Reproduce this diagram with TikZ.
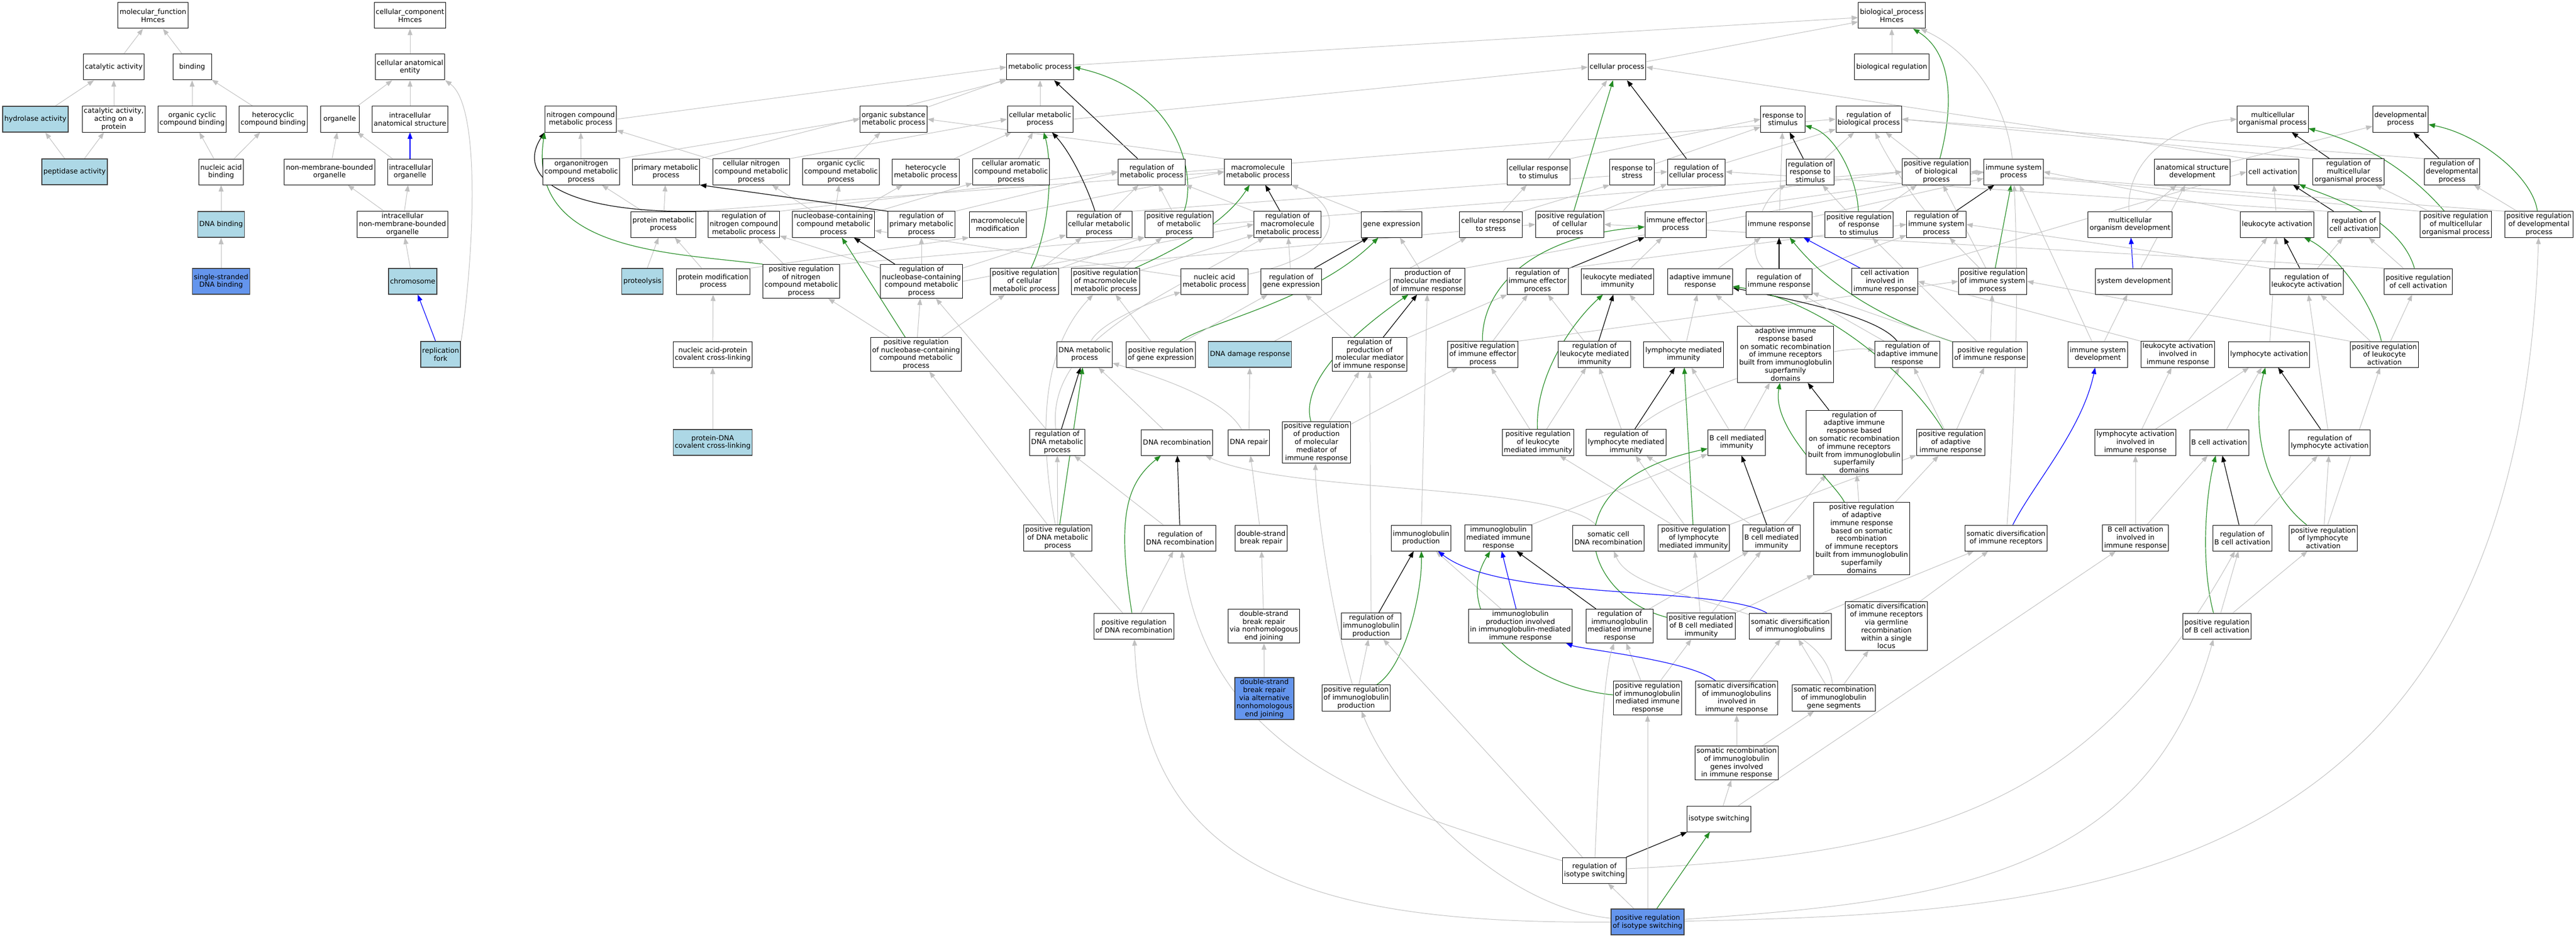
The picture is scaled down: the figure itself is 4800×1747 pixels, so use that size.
\documentclass[tikz,border=0pt]{standalone}
\usepackage{fontspec}
\setmainfont{DejaVu Sans}
\usetikzlibrary{arrows.meta}
\definecolor{hitblue}{HTML}{ADD8E6}
\definecolor{coreblue}{HTML}{6495ED}
\definecolor{isagray}{RGB}{192,192,192}
\definecolor{posgreen}{HTML}{228B22}
\pgfdeclarelayer{background}
\pgfsetlayers{background,main}
\begin{document}
\begin{tikzpicture}[
					x=1pt, y=-1pt,
					go/.style={rectangle,draw,fill=white,line width=1pt,align=center,inner xsep=3pt,inner ysep=3pt,minimum width=72pt,minimum height=48pt,font=\fontsize{13}{14.8}\selectfont},
					hit/.style={go,fill=hitblue,draw=black!75,line width=1.6pt},
					core/.style={go,fill=coreblue,draw=black!75,line width=1.6pt},
					isa/.style={draw=isagray,line width=1pt,-{Stealth[inset=0pt,length=12pt,width=9pt]}},
					regs/.style={draw=black,line width=1.2pt,-{Stealth[inset=0pt,length=12pt,width=9pt]}},
					posreg/.style={draw=posgreen,line width=1.2pt,-{Stealth[inset=0pt,length=12pt,width=9pt]}},
					partof/.style={draw=blue,line width=1.2pt,-{Stealth[inset=0pt,length=12pt,width=9pt]}},
					]
					\useasboundingbox (0,0) rectangle (4800,1747);
					% molecular function and cellular component
					\node [go] (mf) at (285,29) {molecular\_function\\Hmces};
					\node [go] (cc) at (764,29) {cellular\_component\\Hmces};
					\node [go] (bp) at (3525,29) {biological\_process\\Hmces};
					\node [go] (catact) at (212,125) {catalytic activity};
					\node [go] (bind) at (358,125) {binding};
					\node [go] (cae) at (764,125) {cellular anatomical\\entity};
					\node [go] (metab) at (1938,125) {metabolic process};
					\node [go] (cellp) at (3013,125) {cellular process};
					\node [go] (bioreg) at (3525,125) {biological regulation};
					\node [hit] (hydro) at (66,222) {hydrolase activity};
					\node [go] (catprot) at (212,222) {catalytic activity,\\acting on a\\protein};
					\node [go] (orgcyc) at (358,222) {organic cyclic\\compound binding};
					\node [go] (hetcyc) at (509,222) {heterocyclic\\compound binding};
					\node [go] (organelle) at (633,222) {organelle};
					\node [go] (ias) at (764,222) {intracellular\\anatomical structure};
					\node [go] (nitro) at (1082,222) {nitrogen compound\\metabolic process};
					\node [go] (orgsub) at (1665,222) {organic substance\\metabolic process};
					\node [go] (cellmet) at (1938,222) {cellular metabolic\\process};
					\node [go] (respstim) at (3322,222) {response to\\stimulus};
					\node [go] (regbio) at (3482,222) {regulation of\\biological process};
					\node [go] (multi) at (4235,222) {multicellular\\organismal process};
					\node [go] (devel) at (4473,222) {developmental\\process};
					% rank 3
					\node [hit] (pept) at (139,320) {peptidase activity};
					\node [go] (nabind) at (412,320) {nucleic acid\\binding};
					\node [go] (nmbo) at (614,320) {non-membrane-bounded\\organelle};
					\node [go] (icorg) at (764,320) {intracellular\\organelle};
					\node [go] (orgnit) at (1083,320) {organonitrogen\\compound metabolic\\process};
					\node [go] (primet) at (1241,320) {primary metabolic\\process};
					\node [go] (cnitro) at (1400,320) {cellular nitrogen\\compound metabolic\\process};
					\node [go] (ocycmet) at (1567,320) {organic cyclic\\compound metabolic\\process};
					\node [go] (hetmet) at (1725,320) {heterocycle\\metabolic process};
					\node [go] (aromet) at (1884,320) {cellular aromatic\\compound metabolic\\process};
					\node [go] (regmet) at (2146,320) {regulation of\\metabolic process};
					\node [go] (macmet) at (2344,320) {macromolecule\\metabolic process};
					\node [go] (crstim) at (2867,320) {cellular response\\to stimulus};
					\node [go] (rstress) at (3041,320) {response to\\stress};
					\node [go] (regcell) at (3161,320) {regulation of\\cellular process};
					\node [go] (regrstim) at (3373,320) {regulation of\\response to\\stimulus};
					\node [go] (posbio) at (3608,320) {positive regulation\\of biological\\process};
					\node [go] (imsys) at (3752,320) {immune system\\process};
					\node [go] (asdev) at (4085,320) {anatomical structure\\development};
					\node [go] (cellact) at (4235,320) {cell activation};
					\node [go] (regmulti) at (4376,320) {regulation of\\multicellular\\organismal process};
					\node [go] (regdev) at (4569,320) {regulation of\\developmental\\process};
					% rank 4
					\node [hit] (dnabind) at (412,418) {DNA binding};
					\node [go] (incorg) at (750,418) {intracellular\\non-membrane-bounded\\organelle};
					\node [go] (protmet) at (1236,418) {protein metabolic\\process};
					\node [go] (regnitro) at (1386,418) {regulation of\\nitrogen compound\\metabolic process};
					\node [go] (nucmet) at (1553,418) {nucleobase-containing\\compound metabolic\\process};
					\node [go] (regprim) at (1717,418) {regulation of\\primary metabolic\\process};
					\node [go] (macmod) at (1859,418) {macromolecule\\modification};
					\node [go] (regcmet) at (2048,418) {regulation of\\cellular metabolic\\process};
					\node [go] (posmet) at (2197,418) {positive regulation\\of metabolic\\process};
					\node [go] (regmacmet) at (2399,418) {regulation of\\macromolecule\\metabolic process};
					\node [go] (genex) at (2593,418) {gene expression};
					\node [go] (crstress) at (2778,418) {cellular response\\to stress};
					\node [go] (poscell) at (2925,418) {positive regulation\\of cellular\\process};
					\node [go] (imeff) at (3122,418) {immune effector\\process};
					\node [go] (imresp) at (3315,418) {immune response};
					\node [go] (posrstim) at (3464,418) {positive regulation\\of response\\to stimulus};
					\node [go] (regimsys) at (3608,418) {regulation of\\immune system\\process};
					\node [go] (mcodev) at (3969,418) {multicellular\\organism development};
					\node [go] (leukact) at (4243,418) {leukocyte activation};
					\node [go] (regcellact) at (4386,418) {regulation of\\cell activation};
					\node [go] (posmulti) at (4576,418) {positive regulation\\of multicellular\\organismal process};
					\node [go] (posdev) at (4731,418) {positive regulation\\of developmental\\process};
					% rank 5
					\node [core] (ssdna) at (412,524) {single-stranded\\DNA binding};
					\node [hit] (chrom) at (769,524) {chromosome};
					\node [hit] (proteo) at (1197,524) {proteolysis};
					\node [go] (protmod) at (1329,524) {protein modification\\process};
					\node [go] (posnitro) at (1493,524) {positive regulation\\of nitrogen\\compound metabolic\\process};
					\node [go] (regnuc) at (1717,524) {regulation of\\nucleobase-containing\\compound metabolic\\process};
					\node [go] (poscmet) at (1909,524) {positive regulation\\of cellular\\metabolic process};
					\node [go] (posmacmet) at (2060,524) {positive regulation\\of macromolecule\\metabolic process};
					\node [go] (nacmet) at (2263,524) {nucleic acid\\metabolic process};
					\node [go] (reggenex) at (2406,524) {regulation of\\gene expression};
					\node [go] (prodmed) at (2660,524) {production of\\molecular mediator\\of immune response};
					\node [go] (regimeff) at (2865,524) {regulation of\\immune effector\\process};
					\node [go] (leukimm) at (3014,524) {leukocyte mediated\\immunity};
					\node [go] (adapt) at (3168,524) {adaptive immune\\response};
					\node [go] (regimresp) at (3315,524) {regulation of\\immune response};
					\node [go] (cactimm) at (3512,524) {cell activation\\involved in\\immune response};
					\node [go] (posimsys) at (3713,524) {positive regulation\\of immune system\\process};
					\node [go] (sysdev) at (3976,524) {system development};
					\node [go] (regleuk) at (4298,524) {regulation of\\leukocyte activation};
					\node [go] (poscellact) at (4506,524) {positive regulation\\of cell activation};
					% rank 6
					\node [hit] (repfork) at (821,660) {replication\\fork};
					\node [go] (naprot) at (1328,660) {nucleic acid-protein\\covalent cross-linking};
					\node [go] (posnuc) at (1707,660) {positive regulation\\of nucleobase-containing\\compound metabolic\\process};
					\node [go] (dnamet) at (2021,660) {DNA metabolic\\process};
					\node [go] (posgenex) at (2163,660) {positive regulation\\of gene expression};
					\node [hit] (dnadam) at (2329,660) {DNA damage response};
					\node [go] (regprod) at (2552,660) {regulation of\\production of\\molecular mediator\\of immune response};
					\node [go] (posimeff) at (2763,660) {positive regulation\\of immune effector\\process};
					\node [go] (regleukimm) at (2971,660) {regulation of\\leukocyte mediated\\immunity};
					\node [go] (lymimm) at (3137,660) {lymphocyte mediated\\immunity};
					\node [go] (adaptsr) at (3327,660) {adaptive immune\\response based\\on somatic recombination\\of immune receptors\\built from immunoglobulin\\superfamily\\domains};
					\node [go] (regadapt) at (3554,660) {regulation of\\adaptive immune\\response};
					\node [go] (posimresp) at (3708,660) {positive regulation\\of immune response};
					\node [go] (imsysdev) at (3909,660) {immune system\\development};
					\node [go] (leukactimm) at (4058,660) {leukocyte activation\\involved in\\immune response};
					\node [go] (lymact) at (4228,660) {lymphocyte activation};
					\node [go] (posleuk) at (4443,660) {positive regulation\\of leukocyte\\activation};
					% rank 7
					\node [hit] (pdna) at (1328,824) {protein-DNA\\covalent cross-linking};
					\node [go] (regdnamet) at (1970,824) {regulation of\\DNA metabolic\\process};
					\node [go] (dnarec) at (2193,824) {DNA recombination};
					\node [go] (dnarep) at (2327,824) {DNA repair};
					\node [go] (posprod) at (2453,824) {positive regulation\\of production\\of molecular\\mediator of\\immune response};
					\node [go] (posleukimm) at (2866,824) {positive regulation\\of leukocyte\\mediated immunity};
					\node [go] (reglymimm) at (3030,824) {regulation of\\lymphocyte mediated\\immunity};
					\node [go] (bcellimm) at (3236,824) {B cell mediated\\immunity};
					\node [go] (regadaptsr) at (3455,824) {regulation of\\adaptive immune\\response based\\on somatic recombination\\of immune receptors\\built from immunoglobulin\\superfamily\\domains};
					\node [go] (posadapt) at (3635,824) {positive regulation\\of adaptive\\immune response};
					\node [go] (lymactimm) at (3979,824) {lymphocyte activation\\involved in\\immune response};
					\node [go] (bcellact) at (4135,824) {B cell activation};
					\node [go] (reglymact) at (4341,824) {regulation of\\lymphocyte activation};
					% rank 8
					\node [go] (posdnamet) at (1971,1002) {positive regulation\\of DNA metabolic\\process};
					\node [go] (regdnarec) at (2199,1002) {regulation of\\DNA recombination};
					\node [go] (dsbr) at (2350,1002) {double-strand\\break repair};
					\node [go] (igprod) at (2648,1002) {immunoglobulin\\production};
					\node [go] (igimm) at (2792,1002) {immunoglobulin\\mediated immune\\response};
					\node [go] (somdna) at (2997,1002) {somatic cell\\DNA recombination};
					\node [go] (poslymimm) at (3156,1002) {positive regulation\\of lymphocyte\\mediated immunity};
					\node [go] (regbimm) at (3301,1002) {regulation of\\B cell mediated\\immunity};
					\node [go] (posadaptsr) at (3469,1003) {positive regulation\\of adaptive\\immune response\\based on somatic\\recombination\\of immune receptors\\built from immunoglobulin\\superfamily\\domains};
					\node [go] (somrec) at (3738,1002) {somatic diversification\\of immune receptors};
					\node [go] (bactimm) at (3979,1002) {B cell activation\\involved in\\immune response};
					\node [go] (regbact) at (4178,1002) {regulation of\\B cell activation};
					\node [go] (poslymact) at (4329,1002) {positive regulation\\of lymphocyte\\activation};
					% rank 9
					\node [go] (posdnarec) at (2113,1166) {positive regulation\\of DNA recombination};
					\node [go] (nhej) at (2355,1166) {double-strand\\break repair\\via nonhomologous\\end joining};
					\node [go] (regigprod) at (2555,1166) {regulation of\\immunoglobulin\\production};
					\node [go] (igprodimm) at (2833,1166) {immunoglobulin\\production involved\\in immunoglobulin-mediated\\immune response};
					\node [go] (regigimm) at (3018,1166) {regulation of\\immunoglobulin\\mediated immune\\response};
					\node [go] (posbimm) at (3170,1166) {positive regulation\\of B cell mediated\\immunity};
					\node [go] (somdivig) at (3336,1166) {somatic diversification\\of immunoglobulins};
					\node [go] (germline) at (3515,1166) {somatic diversification\\of immune receptors\\via germline\\recombination\\within a single\\locus};
					\node [go] (posbact) at (4131,1166) {positive regulation\\of B cell activation};
					% rank 10 and below
					\node [core] (altnhej) at (2356,1301) {double-strand\\break repair\\via alternative\\nonhomologous\\end joining};
					\node [go] (posigprod) at (2527,1300) {positive regulation\\of immunoglobulin\\production};
					\node [go] (posigimm) at (3070,1300) {positive regulation\\of immunoglobulin\\mediated immune\\response};
					\node [go] (somdivigimm) at (3236,1300) {somatic diversification\\of immunoglobulins\\involved in\\immune response};
					\node [go] (somrecig) at (3417,1300) {somatic recombination\\of immunoglobulin\\gene segments};
					\node [go] (somrecigimm) at (3236,1421) {somatic recombination\\of immunoglobulin\\genes involved\\in immune response};
					\node [go] (isoswitch) at (3203,1525) {isotype switching};
					\node [go] (regiso) at (2971,1621) {regulation of\\isotype switching};
					\node [core] (posiso) at (3070,1717) {positive regulation\\of isotype switching};
					\begin{pgfonlayer}{background}
					% molecular function and cellular component edges
					\draw[isa] (catact) -- (mf);
					\draw[isa] (bind) -- (mf);
					\draw[isa] (hydro) -- (catact);
					\draw[isa] (catprot) -- (catact);
					\draw[isa] (pept) -- (hydro);
					\draw[isa] (pept) -- (catprot);
					\draw[isa] (orgcyc) -- (bind);
					\draw[isa] (hetcyc) -- (bind);
					\draw[isa] (nabind) -- (orgcyc);
					\draw[isa] (nabind) -- (hetcyc);
					\draw[isa] (dnabind) -- (nabind);
					\draw[isa] (ssdna) -- (dnabind);
					\draw[isa] (cae) -- (cc);
					\draw[isa] (organelle) -- (cae);
					\draw[isa] (ias) -- (cae);
					\draw[isa] (nmbo) -- (organelle);
					\draw[isa] (icorg) -- (organelle);
					\draw[partof] (icorg) -- (ias);
					\draw[isa] (incorg) -- (nmbo);
					\draw[isa] (incorg) -- (icorg);
					\draw[isa] (chrom) -- (incorg);
					\draw[partof] (repfork) -- (chrom);
					\draw[isa] (repfork.north east) .. controls (880,500) and (900,200) .. (cae.south east);
					% metabolic processes
					\draw[isa] (metab) -- (bp);
					\draw[isa] (cellp) -- (bp);
					\draw[isa] (bioreg) -- (bp);
					\draw[isa] (nitro.east) -- (metab.west);
					\draw[isa] (orgsub) -- (metab);
					\draw[isa] (cellmet) -- (metab);
					\draw[isa] (cellmet.east) -- (cellp.west);
					\draw[isa] (orgnit) -- (nitro);
					\draw[isa] (orgnit.north east) -- (orgsub.west);
					\draw[isa] (primet.north east) -- (metab.south west);
					\draw[isa] (cnitro) -- (nitro);
					\draw[isa] (cnitro.north east) -- (cellmet.west);
					\draw[isa] (ocycmet) -- (orgsub);
					\draw[isa] (hetmet) -- (cellmet);
					\draw[isa] (aromet) -- (cellmet);
					\draw[regs] (regmet) -- (metab);
					\draw[isa] (regmet.east) -- (regbio.west);
					\draw[isa] (macmet.north west) -- (orgsub.east);
					\draw[isa] (protmet) -- (orgnit);
					\draw[isa] (protmet) -- (primet);
					\draw[isa] (protmet.north east) -- (macmet.west);
					\draw[regs] (regnitro.north west) .. controls (1050,400) and (960,330) .. (nitro.south west);
					\draw[isa] (regnitro.north east) -- (regmet.west);
					\draw[isa] (nucmet) -- (ocycmet);
					\draw[isa] (nucmet) -- (hetmet);
					\draw[isa] (nucmet) -- (aromet);
					\draw[isa] (nucmet) -- (cnitro);
					\draw[regs] (regprim.north west) -- (primet.south east);
					\draw[isa] (regprim.north east) -- (regmet.west);
					\draw[isa] (macmod.north east) -- (macmet.west);
					\draw[regs] (regcmet) .. controls (2030,360) and (2000,290) .. (cellmet);
					\draw[isa] (regcmet) -- (regmet);
					\draw[isa] (regcmet.north east) -- (regcell.west);
					\draw[posreg] (posmet) .. controls (2230,330) and (2200,170) .. (metab.east);
					\draw[isa] (posmet) -- (regmet);
					\draw[isa] (posmet.east) -- (posbio.west);
					\draw[regs] (regmacmet) -- (macmet);
					\draw[isa] (regmacmet) -- (regmet);
					\draw[isa] (genex) -- (macmet);
					\draw[isa] (proteo) -- (protmet);
					\draw[isa] (protmod) -- (protmet);
					\draw[isa] (protmod.north east) -- (macmod.south west);
					\draw[isa] (naprot) -- (protmod);
					\draw[isa] (pdna) -- (naprot);
					\draw[posreg] (posnitro.north west) .. controls (1250,470) and (980,470) .. (nitro.south west);
					\draw[isa] (posnitro) -- (regnitro);
					\draw[isa] (posnitro.north east) -- (posmet.south west);
					\draw[regs] (regnuc) -- (nucmet);
					\draw[isa] (regnuc) -- (regnitro);
					\draw[isa] (regnuc) -- (regprim);
					\draw[isa] (regnuc) -- (regcmet);
					\draw[isa] (regnuc.east) -- (regmacmet.west);
					\draw[posreg] (poscmet) .. controls (1960,420) and (1960,300) .. (cellmet);
					\draw[isa] (poscmet) -- (regcmet);
					\draw[isa] (poscmet) -- (posmet);
					\draw[isa] (poscmet.north east) -- (poscell.west);
					\draw[posreg] (posmacmet) .. controls (2180,470) and (2280,420) .. (macmet);
					\draw[isa] (posmacmet) -- (regmacmet);
					\draw[isa] (posmacmet) -- (posmet);
					\draw[isa] (nacmet) -- (nucmet);
					\draw[isa] (nacmet) .. controls (2520,470) and (2500,380) .. (macmet);
					\draw[regs] (reggenex) -- (genex);
					\draw[isa] (reggenex) -- (regmacmet);
					\draw[posreg] (posnuc) -- (nucmet);
					\draw[isa] (posnuc) -- (regnuc);
					\draw[isa] (posnuc) -- (posnitro);
					\draw[isa] (posnuc) -- (poscmet);
					\draw[isa] (dnamet) .. controls (2050,600) and (2150,560) .. (nacmet);
					\draw[posreg] (posgenex) .. controls (2250,600) and (2450,560) .. (genex);
					\draw[isa] (posgenex) -- (reggenex);
					\draw[isa] (posgenex) -- (posmacmet);
					\draw[isa] (dnadam) -- (crstress);
					\draw[regs] (regdnamet) -- (dnamet);
					\draw[isa] (regdnamet) -- (regnuc);
					\draw[isa] (regdnamet) .. controls (1950,640) and (2150,560) .. (regmacmet);
					\draw[isa] (dnarec) -- (dnamet);
					\draw[isa] (dnarep) -- (dnadam);
					\draw[isa] (dnarep) .. controls (2280,740) and (2150,700) .. (dnamet);
					\draw[regs] (regdnarec) -- (dnarec);
					\draw[isa] (regdnarec) -- (regdnamet);
					\draw[posreg] (posdnamet) -- (dnamet);
					\draw[isa] (posdnamet) -- (regdnamet);
					\draw[isa] (posdnamet) -- (posnuc);
					\draw[isa] (posdnamet) .. controls (1930,780) and (1950,640) .. (posmacmet);
					\draw[posreg] (posdnarec) .. controls (2080,960) and (2100,900) .. (dnarec);
					\draw[isa] (posdnarec) -- (regdnarec);
					\draw[isa] (posdnarec) -- (posdnamet);
					\draw[isa] (dsbr) -- (dnarep);
					\draw[isa] (nhej) -- (dsbr);
					\draw[isa] (altnhej) -- (nhej);
					% cellular process and response
					\draw[isa] (crstim) -- (cellp);
					\draw[isa] (crstim.north east) -- (respstim.west);
					\draw[isa] (rstress) -- (respstim);
					\draw[isa] (crstress) -- (crstim);
					\draw[isa] (crstress.north east) -- (rstress.south west);
					\draw[regs] (regcell) -- (cellp);
					\draw[isa] (regcell) -- (regbio);
					\draw[regs] (regrstim) -- (respstim);
					\draw[isa] (regrstim) -- (regbio);
					\draw[posreg] (posbio) .. controls (3640,200) and (3640,100) .. (bp);
					\draw[isa] (posbio) -- (regbio);
					\draw[isa] (imsys) .. controls (3740,200) and (3680,100) .. (bp);
					\draw[posreg] (poscell) -- (cellp);
					\draw[isa] (poscell) -- (regcell);
					\draw[isa] (poscell.north east) -- (posbio.west);
					\draw[isa] (imeff.north east) -- (imsys.west);
					\draw[isa] (imresp) -- (respstim);
					\draw[isa] (imresp) -- (imsys);
					\draw[posreg] (posrstim) .. controls (3460,330) and (3420,250) .. (respstim);
					\draw[isa] (posrstim) -- (regrstim);
					\draw[isa] (posrstim) -- (posbio);
					\draw[regs] (regimsys) -- (imsys);
					\draw[isa] (regimsys) .. controls (3560,360) and (3520,300) .. (regbio);
					\draw[isa] (prodmed) -- (genex);
					\draw[isa] (prodmed.north east) -- (imsys.west);
					\draw[regs] (regimeff) -- (imeff);
					\draw[isa] (regimeff.north east) -- (regimsys.west);
					\draw[isa] (leukimm) -- (imeff);
					\draw[isa] (adapt) -- (imresp);
					\draw[regs] (regimresp) -- (imresp);
					\draw[isa] (regimresp) -- (regimsys);
					\draw[isa] (regimresp) .. controls (3250,470) and (3280,370) .. (regrstim);
					\draw[partof] (cactimm) -- (imresp);
					\draw[isa] (cactimm.north east) -- (cellact.west);
					\draw[posreg] (posimsys) -- (imsys);
					\draw[isa] (posimsys) -- (regimsys);
					\draw[isa] (posimsys) -- (posbio);
					\draw[partof] (sysdev) -- (mcodev);
					\draw[isa] (sysdev) -- (asdev);
					\draw[isa] (mcodev) .. controls (3960,300) and (4050,230) .. (multi.west);
					\draw[isa] (mcodev) -- (asdev);
					\draw[isa] (asdev) -- (devel);
					\draw[isa] (cellact.north west) -- (cellp.east);
					\draw[regs] (regmulti) -- (multi);
					\draw[isa] (regmulti.north west) -- (regbio.east);
					\draw[regs] (regdev) -- (devel);
					\draw[isa] (regdev.north west) -- (regbio.east);
					\draw[isa] (leukact) -- (cellact);
					\draw[isa] (leukact.north west) -- (imsys.east);
					\draw[regs] (regcellact) -- (cellact);
					\draw[isa] (regcellact.north west) -- (regcell.east);
					\draw[posreg] (posmulti) .. controls (4500,330) and (4420,270) .. (multi);
					\draw[isa] (posmulti) -- (regmulti);
					\draw[isa] (posmulti.north west) -- (posbio.east);
					\draw[posreg] (posdev) .. controls (4720,330) and (4620,250) .. (devel);
					\draw[isa] (posdev) -- (regdev);
					\draw[isa] (posdev.north west) -- (posbio.east);
					\draw[regs] (regleuk) -- (leukact);
					\draw[isa] (regleuk) -- (regcellact);
					\draw[isa] (regleuk.north west) -- (regimsys.east);
					\draw[posreg] (poscellact) .. controls (4470,400) and (4320,360) .. (cellact);
					\draw[isa] (poscellact) -- (regcellact);
					\draw[isa] (poscellact.north west) -- (poscell.east);
					% immune system processes
					\draw[regs] (regprod) -- (prodmed);
					\draw[isa] (regprod) -- (regimeff);
					\draw[isa] (regprod) -- (reggenex);
					\draw[posreg] (posimeff) .. controls (2760,540) and (2850,440) .. (imeff);
					\draw[isa] (posimeff) -- (regimeff);
					\draw[isa] (posimeff.north east) -- (posimsys.west);
					\draw[regs] (regleukimm) -- (leukimm);
					\draw[isa] (regleukimm) -- (regimeff);
					\draw[isa] (lymimm) -- (leukimm);
					\draw[isa] (lymimm) -- (adapt);
					\draw[isa] (adaptsr) -- (adapt);
					\draw[regs] (regadapt) .. controls (3500,590) and (3350,560) .. (adapt);
					\draw[isa] (regadapt) -- (regimresp);
					\draw[posreg] (posimresp) .. controls (3560,610) and (3430,560) .. (imresp);
					\draw[isa] (posimresp) -- (regimresp);
					\draw[isa] (posimresp) -- (posimsys);
					\draw[isa] (posimresp) -- (posrstim);
					\draw[isa] (imsysdev) -- (imsys);
					\draw[isa] (imsysdev) -- (sysdev);
					\draw[isa] (leukactimm) -- (leukact);
					\draw[isa] (leukactimm.north west) -- (cactimm.east);
					\draw[isa] (lymact) -- (leukact);
					\draw[posreg] (posleuk) .. controls (4420,560) and (4350,470) .. (leukact);
					\draw[isa] (posleuk) -- (regleuk);
					\draw[isa] (posleuk) -- (poscellact);
					\draw[isa] (posleuk.north west) -- (posimsys.east);
					\draw[posreg] (posprod) .. controls (2420,700) and (2550,600) .. (prodmed);
					\draw[isa] (posprod) -- (regprod);
					\draw[isa] (posprod) -- (posimeff);
					\draw[posreg] (posleukimm) .. controls (2860,700) and (2930,600) .. (leukimm);
					\draw[isa] (posleukimm) -- (regleukimm);
					\draw[isa] (posleukimm) -- (posimeff);
					\draw[regs] (reglymimm) -- (lymimm);
					\draw[isa] (reglymimm) -- (regleukimm);
					\draw[isa] (reglymimm) .. controls (3100,740) and (3400,640) .. (regadapt);
					\draw[isa] (bcellimm) -- (lymimm);
					\draw[isa] (bcellimm) -- (adaptsr);
					\draw[regs] (regadaptsr) -- (adaptsr);
					\draw[isa] (regadaptsr) -- (regadapt);
					\draw[posreg] (posadapt) .. controls (3560,700) and (3400,560) .. (adapt);
					\draw[isa] (posadapt) -- (regadapt);
					\draw[isa] (posadapt) -- (posimresp);
					\draw[isa] (lymactimm) -- (leukactimm);
					\draw[isa] (lymactimm) -- (lymact);
					\draw[isa] (bcellact) -- (lymact);
					\draw[regs] (reglymact) -- (lymact);
					\draw[isa] (reglymact) -- (regleuk);
					\draw[posreg] (poslymact) .. controls (4200,900) and (4200,760) .. (lymact);
					\draw[isa] (poslymact) -- (reglymact);
					\draw[isa] (poslymact) -- (posleuk);
					\draw[isa] (bactimm) -- (lymactimm);
					\draw[isa] (bactimm) -- (bcellact);
					\draw[regs] (regbact) -- (bcellact);
					\draw[isa] (regbact) -- (reglymact);
					\draw[posreg] (posbact) .. controls (4100,1050) and (4110,920) .. (bcellact);
					\draw[isa] (posbact) -- (regbact);
					\draw[isa] (posbact) -- (poslymact);
					\draw[isa] (igprod) -- (prodmed);
					\draw[isa] (igimm) -- (bcellimm);
					\draw[isa] (somdna) .. controls (2900,900) and (2400,920) .. (dnarec);
					\draw[posreg] (poslymimm) -- (lymimm);
					\draw[isa] (poslymimm) -- (reglymimm);
					\draw[isa] (poslymimm) -- (posleukimm);
					\draw[isa] (poslymimm) -- (posadapt);
					\draw[regs] (regbimm) -- (bcellimm);
					\draw[isa] (regbimm) -- (reglymimm);
					\draw[isa] (regbimm) -- (regadaptsr);
					\draw[posreg] (posadaptsr) .. controls (3420,900) and (3300,800) .. (adaptsr);
					\draw[isa] (posadaptsr) -- (regadaptsr);
					\draw[isa] (posadaptsr) -- (posadapt);
					\draw[partof] (somrec) .. controls (3790,900) and (3880,800) .. (imsysdev);
					\draw[isa] (somrec) .. controls (3760,700) and (3760,500) .. (imsys);
					\draw[regs] (regigprod) -- (igprod);
					\draw[isa] (regigprod) -- (regprod);
					\draw[isa] (igprodimm) -- (igprod);
					\draw[partof] (igprodimm) -- (igimm);
					\draw[regs] (regigimm) -- (igimm);
					\draw[isa] (regigimm) -- (regbimm);
					\draw[posreg] (posbimm) .. controls (2950,1110) and (2880,900) .. (bcellimm);
					\draw[isa] (posbimm) -- (regbimm);
					\draw[isa] (posbimm) -- (poslymimm);
					\draw[isa] (posbimm.north east) -- (posadaptsr.south west);
					\draw[isa] (somdivig) -- (somrec);
					\draw[partof] (somdivig) .. controls (3200,1090) and (2800,1120) .. (igprod);
					\draw[isa] (germline) -- (somrec);
					\draw[posreg] (posigprod) .. controls (2620,1240) and (2650,1100) .. (igprod);
					\draw[isa] (posigprod) -- (regigprod);
					\draw[isa] (posigprod) .. controls (2470,1100) and (2450,900) .. (posprod);
					\draw[posreg] (posigimm) .. controls (2850,1280) and (2700,1150) .. (igimm);
					\draw[isa] (posigimm) -- (regigimm);
					\draw[isa] (posigimm) -- (posbimm);
					\draw[isa] (somdivigimm) -- (somdivig);
					\draw[partof] (somdivigimm) .. controls (3150,1230) and (2950,1210) .. (igprodimm);
					\draw[isa] (somrecig) -- (somdivig);
					\draw[isa] (somrecig) -- (germline);
					\draw[isa] (somrecig) .. controls (3400,1120) and (3050,1130) .. (somdna);
					\draw[isa] (somrecigimm) -- (somdivigimm);
					\draw[isa] (somrecigimm) -- (somrecig);
					\draw[isa] (isoswitch) -- (somrecigimm);
					\draw[isa] (isoswitch) -- (bactimm);
					\draw[regs] (regiso) -- (isoswitch);
					\draw[isa] (regiso) -- (regigprod);
					\draw[isa] (regiso) .. controls (2980,1400) and (2990,1250) .. (regigimm);
					\draw[isa] (regiso) .. controls (2600,1510) and (2250,1420) .. (regdnarec);
					\draw[isa] (regiso) .. controls (3600,1590) and (3900,1500) .. (regbact);
					\draw[posreg] (posiso) -- (isoswitch);
					\draw[isa] (posiso) -- (regiso);
					\draw[isa] (posiso) -- (posigimm);
					\draw[isa] (posiso) .. controls (2800,1690) and (2600,1480) .. (posigprod);
					\draw[isa] (posiso) .. controls (2500,1720) and (2130,1650) .. (posdnarec);
					\draw[isa] (posiso) .. controls (3600,1680) and (4000,1640) .. (posbact);
					\draw[isa] (posiso) .. controls (3900,1700) and (4690,1650) .. (posdev);
					\end{pgfonlayer}
				\end{tikzpicture}
\end{document}
